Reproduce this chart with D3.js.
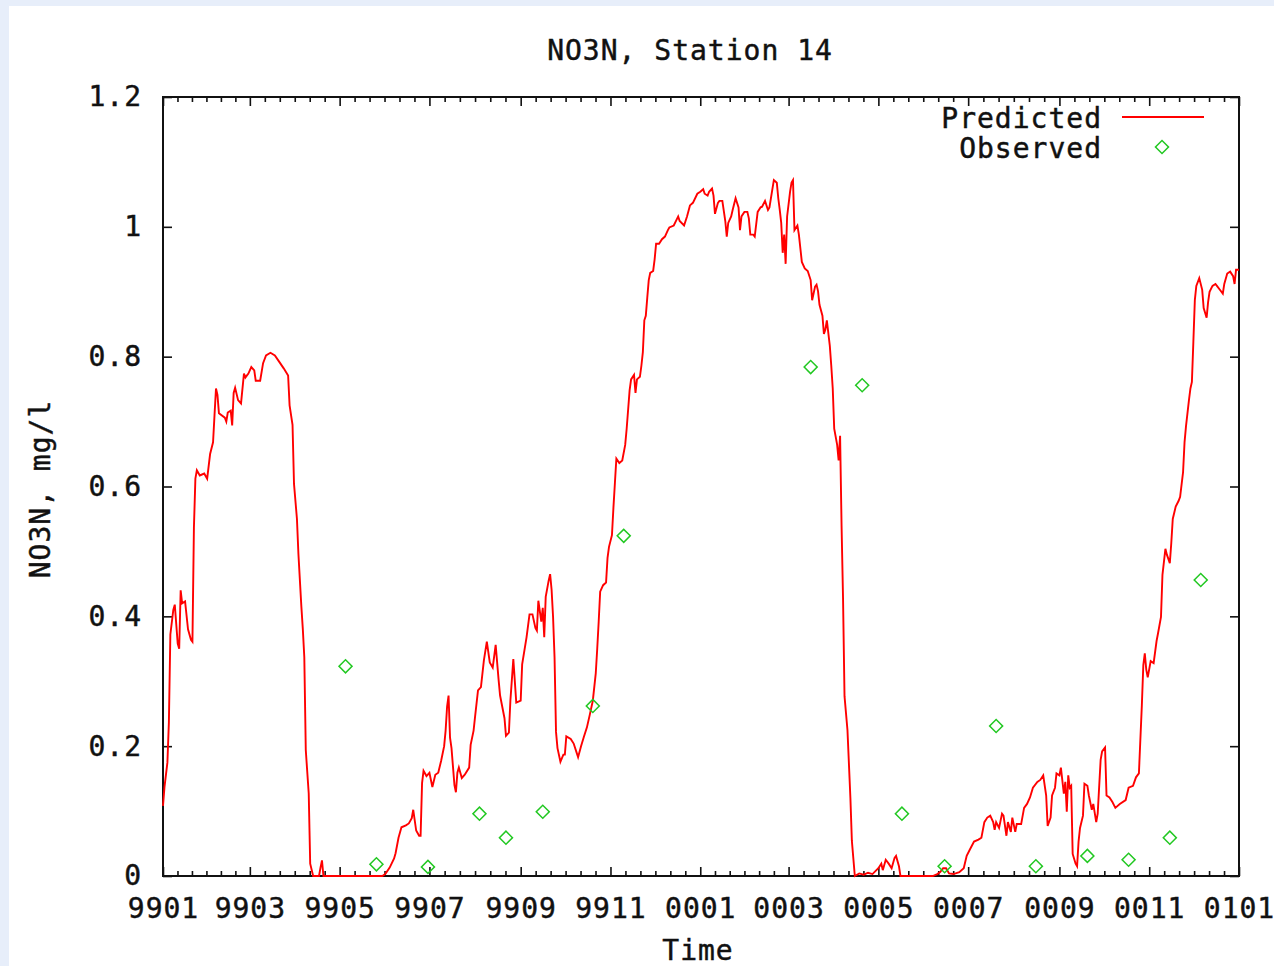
<!DOCTYPE html>
<html>
<head>
<meta charset="utf-8">
<script src="https://cdn.jsdelivr.net/npm/d3@7"></script>
<style>
  html, body { margin: 0; padding: 0; background: #e7eefa; }
  svg { display: block; }
  text { font-family: "DejaVu Sans Mono", monospace; }
</style>
</head>
<body>
<script>
// ---------------- data ----------------
const chartTitle = "NO3N, Station 14";
const xTitle = "Time";
const yTitle = "NO3N, mg/l";
const seriesNames = ["Predicted", "Observed"];
const startDate = "1999-01-01";   // day 0 of the day offsets below
const endDate = "2001-01-01";

const xTickLabels = ["9901","9903","9905","9907","9909","9911","0001","0003","0005","0007","0009","0011","0101"];
const yTickValues = [0, 0.2, 0.4, 0.6, 0.8, 1.0, 1.2];
const yTickLabels = ["0","0.2","0.4","0.6","0.8","1","1.2"];

// Predicted: day offset from startDate, value (mg/l)
const predictedDay = [
0,1,3,4,5,7,8,10,11,12,13,15,17,19,20,21,22,23,25,28,30,32,34,35,36,37,38,42,43,44,46,47,48,49,51,53,55,56,58,60,62,63,66,68,70,73,76,79,82,85,86,88,89,91,92,94,95,96,97,99,100,102,106,107,108,109,149,151,154,157,158,160,162,165,167,169,170,172,174,175,176,177,179,181,183,185,187,189,191,192,193,194,195,196,198,199,200,201,203,205,208,209,211,212,214,216,218,220,222,224,226,228,229,232,233,235,236,238,240,
243,244,247,249,251,253,254,255,257,258,259,260,262,263,264,265,266,267,268,270,272,273,274,277,279,281,282,284,286,288,290,292,294,295,296,297,299,301,302,303,305,306,307,308,310,312,314,315,317,318,320,321,322,324,325,326,327,328,329,330,331,333,334,335,337,339,341,343,344,347,350,351,354,356,358,360,363,365,367,368,370,371,373,374,375,377,378,380,382,383,384,386,387,389,391,392,393,395,397,398,399,401,402,404,406,407,409,411,412,414,415,417,418,419,420,421,422,423,424,426,427,428,429,431,432,434,436,438,440,441,443,444,445,446,448,449,450,451,453,454,455,456,458,459,460,461,462,463,465,467,468,470,
473,476,479,482,486,488,489,491,493,495,497,498,500,501,523,526,528,530,532,534,537,541,544,546,548,551,554,556,558,560,562,564,565,566,568,570,571,573,574,576,577,579,580,583,585,587,589,591,594,596,598,600,601,603,604,606,607,609,610,612,613,614,615,616,617,618,620,621,622,623,625,626,628,629,631,632,634,635,637,638,640,641,643,645,647,650,654,656,659,661,663,665,666,667,668,669,671,673,675,676,678,679,681,682,684,685,686,688,690,691,693,694,695,697,698,699,700,701,702,704,706,707,709,710,711,713,715,716,718,720,721,723,725,727,728,729,731
];
const predictedValue = [
0.108,0.137,0.175,0.237,0.372,0.41,0.418,0.358,0.35,0.44,0.42,0.423,0.38,0.364,0.361,0.536,0.612,0.625,0.617,0.62,0.612,0.65,0.668,0.71,0.751,0.741,0.713,0.706,0.70,0.714,0.717,0.694,0.744,0.752,0.733,0.728,0.774,0.768,0.774,0.784,0.779,0.763,0.763,0.79,0.802,0.806,0.802,0.792,0.782,0.771,0.725,0.695,0.604,0.55,0.496,0.415,0.38,0.337,0.194,0.127,0.019,0,0,0.013,0.024,0,0,0.003,0.013,0.027,0.035,0.059,0.075,0.078,0.081,0.089,0.102,0.07,0.062,0.062,0.143,0.162,0.154,0.159,0.137,0.156,0.159,0.178,0.2,0.224,0.261,0.278,0.213,0.197,0.14,0.129,0.159,0.167,0.151,0.156,0.167,0.202,0.224,0.245,0.286,0.291,0.332,0.361,0.329,0.321,0.356,0.302,0.278,0.243,0.216,0.221,0.27,0.334,0.267,
0.27,0.326,0.368,0.403,0.403,0.382,0.378,0.424,0.392,0.413,0.368,0.43,0.455,0.465,0.441,0.399,0.337,0.222,0.197,0.176,0.187,0.187,0.215,0.211,0.204,0.19,0.183,0.2,0.215,0.229,0.249,0.27,0.312,0.35,0.392,0.438,0.448,0.452,0.49,0.507,0.525,0.567,0.605,0.643,0.636,0.64,0.664,0.689,0.748,0.765,0.772,0.744,0.765,0.769,0.786,0.807,0.856,0.863,0.891,0.918,0.929,0.932,0.95,0.974,0.974,0.981,0.985,0.995,0.999,1.002,1.016,1.009,1.002,1.016,1.033,1.037,1.051,1.054,1.058,1.051,1.048,1.054,1.059,1.048,1.02,1.037,1.04,1.04,1.009,0.985,1.006,1.016,1.026,1.044,1.03,0.995,1.016,1.023,1.023,1.013,0.988,0.988,0.985,1.023,1.03,1.031,1.04,1.026,1.03,1.058,1.072,1.068,1.044,1.026,1.006,0.96,0.988,0.943,1.016,1.054,1.068,1.072,0.995,1.002,0.988,0.946,0.936,0.932,0.918,0.887,0.908,0.911,0.901,0.88,0.863,0.835,0.842,0.856,0.817,0.786,0.751,0.689,0.664,0.64,0.678,0.539,0.427,0.277,0.225,0.12,0.054,0,
0.004,0.002,0.005,0.003,0.012,0.019,0.009,0.025,0.019,0.012,0.028,0.031,0.015,0,0,0.003,0.006,0.012,0.012,0.004,0.003,0.006,0.012,0.031,0.04,0.053,0.056,0.059,0.083,0.09,0.093,0.083,0.071,0.083,0.074,0.096,0.093,0.062,0.083,0.068,0.09,0.068,0.08,0.08,0.105,0.111,0.121,0.136,0.145,0.148,0.155,0.124,0.077,0.09,0.124,0.136,0.158,0.155,0.167,0.127,0.145,0.099,0.155,0.136,0.139,0.034,0.019,0.015,0.053,0.074,0.093,0.142,0.139,0.124,0.102,0.111,0.083,0.096,0.179,0.192,0.198,0.124,0.121,0.114,0.105,0.111,0.117,0.136,0.139,0.152,0.158,0.263,0.325,0.343,0.318,0.306,0.331,0.328,0.362,0.374,0.399,0.464,0.504,0.495,0.482,0.513,0.55,0.569,0.578,0.584,0.622,0.668,0.693,0.733,0.751,0.761,0.823,0.887,0.909,0.921,0.903,0.875,0.86,0.884,0.9,0.909,0.912,0.909,0.903,0.897,0.912,0.928,0.931,0.924,0.912,0.934,0.934
];

// Observed samples: day offset from startDate, value (mg/l)
const observedDay   = [124, 145, 180, 215, 233, 258, 292, 313, 440, 475, 502, 531, 566, 593, 628, 656, 684, 705];
const observedValue = [0.323, 0.018, 0.014, 0.096, 0.059, 0.099, 0.262, 0.524, 0.784, 0.756, 0.096, 0.015, 0.231, 0.015, 0.031, 0.025, 0.059, 0.456];

// ---------------- layout ----------------
const W = 1274, H = 966;
const margin = { left: 163, top: 97, right: 1274 - 1239, bottom: 966 - 876 };
const iw = W - margin.left - margin.right;
const ih = H - margin.top - margin.bottom;
const FONT = 28;
const LS = "1px";

const parse = d3.utcParse("%Y-%m-%d");
const t0 = parse(startDate), t1 = parse(endDate);
const dayToDate = d => d3.utcDay.offset(t0, d);

const predicted = predictedDay.map((d, i) => ({ date: dayToDate(d), value: predictedValue[i] }));
const observed = observedDay.map((d, i) => ({ date: dayToDate(d), value: observedValue[i] }));

const x = d3.scaleUtc().domain([t0, t1]).range([0, iw]);
const y = d3.scaleLinear().domain([0, 1.2]).range([ih, 0]);

const svg = d3.select("body").append("svg").attr("width", W).attr("height", H);
svg.append("rect").attr("x", 0).attr("y", 0).attr("width", W).attr("height", H).attr("fill", "#e7eefa");
svg.append("rect").attr("x", 9).attr("y", 6).attr("width", W - 9).attr("height", H - 6).attr("fill", "#ffffff");

const g = svg.append("g").attr("transform", `translate(${margin.left},${margin.top})`);

// ticks
const majorDates = d3.utcMonth.every(2).range(t0, d3.utcDay.offset(t1, 1));
const minorDates = [];
for (let i = 0; i < majorDates.length - 1; i++) {
  const a = +majorDates[i], b = +majorDates[i + 1];
  for (let k = 1; k < 6; k++) minorDates.push(new Date(a + (b - a) * k / 6));
}

function styleText(sel) {
  sel.attr("font-family", "DejaVu Sans Mono, monospace")
     .attr("font-size", FONT).attr("fill", "#111").attr("letter-spacing", LS)
     .attr("stroke", "#111").attr("stroke-width", 0.45);
}
function styleAxis(sel) {
  sel.select(".domain").remove();
  sel.selectAll("line").attr("stroke", "#111").attr("stroke-width", 1.6);
  sel.selectAll("text").call(styleText);
}

g.append("g").attr("transform", `translate(0,${ih})`)
  .call(d3.axisBottom(x).tickValues(majorDates).tickSize(-9).tickSizeOuter(0).tickPadding(22)
        .tickFormat((d, i) => xTickLabels[i]))
  .call(styleAxis);
g.append("g").attr("transform", `translate(0,${ih})`)
  .call(d3.axisBottom(x).tickValues(minorDates).tickSize(-5).tickSizeOuter(0).tickFormat(""))
  .call(styleAxis);
g.append("g")
  .call(d3.axisTop(x).tickValues(majorDates).tickSize(-9).tickSizeOuter(0).tickFormat(""))
  .call(styleAxis);
g.append("g")
  .call(d3.axisTop(x).tickValues(minorDates).tickSize(-5).tickSizeOuter(0).tickFormat(""))
  .call(styleAxis);
g.append("g")
  .call(d3.axisLeft(y).tickValues(yTickValues).tickSize(-9).tickSizeOuter(0).tickPadding(21)
        .tickFormat((d, i) => yTickLabels[i]))
  .call(styleAxis);
g.append("g").attr("transform", `translate(${iw},0)`)
  .call(d3.axisRight(y).tickValues(yTickValues).tickSize(-9).tickSizeOuter(0).tickFormat(""))
  .call(styleAxis);

// frame
g.append("rect").attr("x", 0).attr("y", 0).attr("width", iw).attr("height", ih)
  .attr("fill", "none").attr("stroke", "#111").attr("stroke-width", 2);

// predicted line
const line = d3.line().x(d => x(d.date)).y(d => y(d.value));
g.append("path").datum(predicted).attr("d", line)
  .attr("fill", "none").attr("stroke", "#ff0000").attr("stroke-width", 1.9)
  .attr("stroke-linejoin", "miter");

// observed diamonds
const diamond = d3.symbol().type(d3.symbolSquare).size(85);
g.selectAll(".obs").data(observed).join("path").attr("class", "obs")
  .attr("d", diamond)
  .attr("transform", d => `translate(${x(d.date)},${y(d.value)}) rotate(45)`)
  .attr("fill", "none").attr("stroke", "#22c822").attr("stroke-width", 1.5);

// titles
const txt = (sx, sy, s, anchor) => svg.append("text").attr("x", sx).attr("y", sy).text(s)
  .call(styleText).attr("text-anchor", anchor);
txt(690, 60, chartTitle, "middle");
txt(698, 960, xTitle, "middle");
svg.append("text").attr("transform", "translate(50,489) rotate(-90)").text(yTitle)
  .call(styleText).attr("text-anchor", "middle");

// legend
txt(1102, 128, seriesNames[0], "end");
svg.append("line").attr("x1", 1122).attr("x2", 1204).attr("y1", 117).attr("y2", 117)
  .attr("stroke", "#ff0000").attr("stroke-width", 1.9);
txt(1102, 158, seriesNames[1], "end");
svg.append("path").attr("d", diamond).attr("transform", "translate(1162,147) rotate(45)")
  .attr("fill", "none").attr("stroke", "#22c822").attr("stroke-width", 1.5);
</script>
</body>
</html>
